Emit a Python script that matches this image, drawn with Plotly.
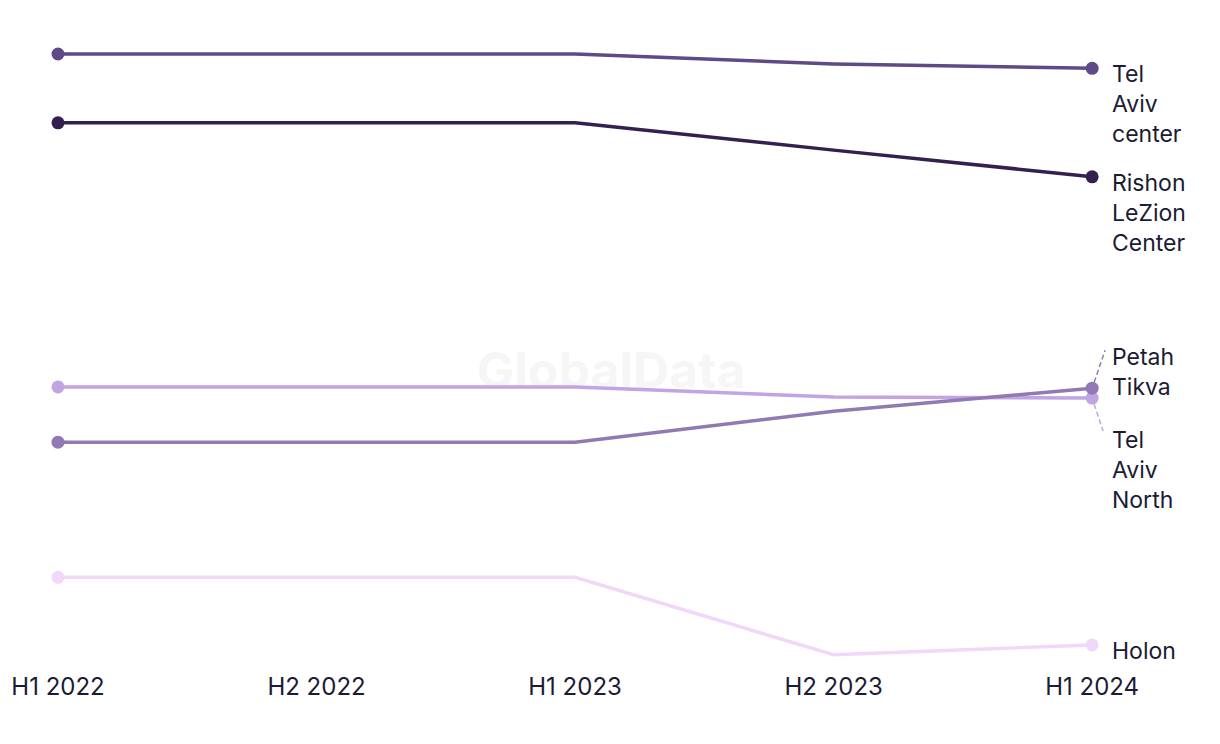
import plotly.graph_objects as go

periods = ["H1 2022", "H2 2022", "H1 2023", "H2 2023", "H1 2024"]
tel_aviv_center = [97.9, 97.9, 97.9, 96.3, 95.6]
rishon_lezion = [86.8, 86.8, 86.8, 82.4, 78.1]
tel_aviv_north = [44.2, 44.2, 44.2, 42.6, 42.4]
petah_tikva = [35.3, 35.3, 35.3, 40.3, 44.0]
holon = [13.5, 13.5, 13.5, 1.0, 2.6]

idx = list(range(len(periods)))

series = [
    ("Tel<br>Aviv<br>center", tel_aviv_center, "#5e4a86", 10),
    ("Rishon<br>LeZion<br>Center", rishon_lezion, "#33204f", 10),
    ("Tel<br>Aviv<br>North", tel_aviv_north, "#c0a4e3", -26),
    ("Petah<br>Tikva", petah_tikva, "#9179b4", 47),
    ("Holon", holon, "#f1d8fa", 10),
]

FONT = "Inter"
TEXT = "#1b1b33"

fig = go.Figure()
# watermark behind the lines
fig.add_trace(go.Scatter(
    x=[2.14], y=[46.0], mode="text", text=["GlobalData"],
    textfont=dict(family=FONT, size=50, color="#f6f6f6", weight="bold"),
    hoverinfo="skip", showlegend=False, cliponaxis=False,
))
for name, vals, color, _ in series:
    fig.add_trace(go.Scatter(
        x=idx, y=vals, mode="lines",
        line=dict(color=color, width=3.5),
        showlegend=False, hoverinfo="y",
    ))
    fig.add_trace(go.Scatter(
        x=[idx[0], idx[-1]], y=[vals[0], vals[-1]], mode="markers",
        marker=dict(size=13, color=color, line=dict(width=0)),
        cliponaxis=False, showlegend=False, hoverinfo="skip",
    ))

annotations = []
for name, vals, color, yshift in series:
    annotations.append(dict(
        text=name, x=idx[-1], y=vals[-1], xref="x", yref="y",
        xanchor="left", yanchor="top", align="left", showarrow=False,
        xshift=18, yshift=yshift,
        font=dict(family=FONT, size=23, color=TEXT),
    ))

shapes = [
    dict(type="line", xref="x", yref="y", xsizemode="pixel", ysizemode="pixel",
         xanchor=idx[-1], yanchor=petah_tikva[-1], x0=2, y0=6, x1=13, y1=38,
         line=dict(color="#9179b4", width=1.5, dash="5px,3px")),
    dict(type="line", xref="x", yref="y", xsizemode="pixel", ysizemode="pixel",
         xanchor=idx[-1], yanchor=tel_aviv_north[-1], x0=2, y0=-6, x1=11, y1=-33,
         line=dict(color="#c0a4e3", width=1.5, dash="5px,3px")),
]

fig.update_layout(
    width=1220, height=744,
    margin=dict(l=50, r=110, t=33, b=91, autoexpand=False),
    paper_bgcolor="white", plot_bgcolor="white",
    annotations=annotations, shapes=shapes,
    xaxis=dict(range=[0, 4.1], showgrid=False, zeroline=False, showline=False,
               automargin=False,
               tickmode="array", tickvals=idx, ticktext=periods,
               tickfont=dict(family=FONT, size=24, color=TEXT), ticklabelstandoff=9),
    yaxis=dict(range=[0, 100], visible=False, automargin=False),
)

fig.write_html("out.html")
